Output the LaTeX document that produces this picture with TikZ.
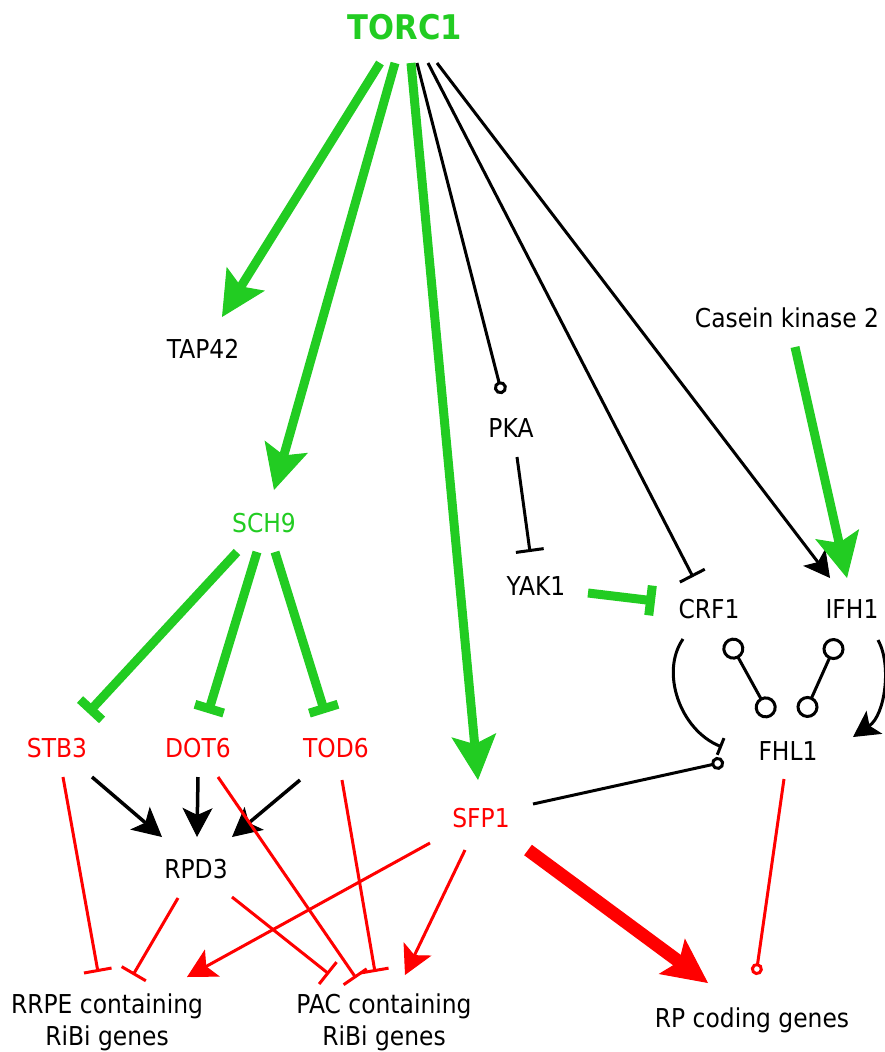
\documentclass[tikz,border=0pt]{standalone}
\usepackage{fontspec}
\setmainfont[FakeStretch=0.9]{DejaVu Sans}
\usetikzlibrary{arrows.meta}
\definecolor{gr}{RGB}{34,204,34}
\definecolor{rd}{RGB}{255,0,0}
\begin{document}
\begin{tikzpicture}[x=1pt,y=-1pt,
  lbl/.style={anchor=base,inner sep=0pt,font=\fontsize{26}{30}\selectfont},
  gact/.style={draw=gr,line width=9pt,-{Stealth[length=45pt,width=45pt,inset=9pt,line width=1pt]}},
  ginh/.style={draw=gr,line width=9pt,-{Bar[width=30pt]}},
  bact/.style={draw=black,line width=3.5pt,-{Stealth[length=29pt,width=30pt,inset=7pt,line width=1pt]}},
  bactb/.style={draw=black,line width=3pt,-{Stealth[length=26pt,width=28pt,inset=6pt,line width=1pt]}},
  binh/.style={draw=black,line width=3pt,-{Bar[width=28pt]}},
  bcirc/.style={draw=black,line width=3pt,-{Circle[open,length=13pt,width=13pt]}},
  bcircbig/.style={draw=black,line width=3pt,{Circle[open,length=22pt,width=22pt]}-{Circle[open,length=22pt,width=22pt]}},
  rinh/.style={draw=rd,line width=3pt,-{Bar[width=28pt]}},
  ract/.style={draw=rd,line width=3pt,-{Stealth[length=29pt,width=31pt,inset=7pt,line width=1pt]}},
  rbig/.style={draw=rd,line width=13pt,-{Stealth[length=45pt,width=44pt,inset=9pt,line width=1pt]}},
  rcirc/.style={draw=rd,line width=3pt,-{Circle[open,length=12pt,width=12pt]}}]
\path[use as bounding box] (0,0) rectangle (885,1052);
% nodes
\node[lbl,font=\bfseries\fontsize{34}{40}\selectfont,text=gr] (torc) at (405,39) {TORC1};
\node[lbl] (tap) at (203,358) {TAP42};
\node[lbl,text=gr] (sch) at (264,532) {SCH9};
\node[lbl] (pka) at (511,437) {PKA};
\node[lbl] (ck2) at (787,327) {Casein kinase 2};
\node[lbl] (yak) at (536,595) {YAK1};
\node[lbl] (crf) at (709,618) {CRF1};
\node[lbl] (ifh) at (852,618) {IFH1};
\node[lbl] (fhl) at (788,760) {FHL1};
\node[lbl,text=rd] (stb) at (57,757) {STB3};
\node[lbl,text=rd] (dot) at (198,757) {DOT6};
\node[lbl,text=rd] (tod) at (336,757) {TOD6};
\node[lbl,text=rd] (sfp) at (481,827) {SFP1};
\node[lbl] (rpd) at (196,878) {RPD3};
\node[lbl] (rrpe) at (107,1013) {RRPE containing};
\node[lbl] (rrpeb) at (107,1045) {RiBi genes};
\node[lbl] (pac) at (384,1013) {PAC containing};
\node[lbl] (pacb) at (384,1045) {RiBi genes};
\node[lbl] (rp) at (752,1027) {RP coding genes};
% TORC1 edges
\draw[gact] ([shift={(-25,24)}]torc.base) -- ([shift={(19,-41)}]tap.base);
\draw[gact] ([shift={(-10,24)}]torc.base) -- ([shift={(10,-42)}]sch.base);
\draw[gact] ([shift={(6,24)}]torc.base) -- ([shift={(-3,-47)}]sfp.base);
\draw[bcirc] ([shift={(12,24)}]torc.base) -- ([shift={(-9,-43)}]pka.base);
\draw[binh] ([shift={(23,24)}]torc.base) -- ([shift={(-16,-41)}]crf.base);
\draw[bactb] ([shift={(32,24)}]torc.base) -- ([shift={(-22,-40)}]ifh.base);
% right side
\draw[gact] ([shift={(8,20)}]ck2.base) -- ([shift={(-5,-40)}]ifh.base);
\draw[binh] ([shift={(6,20)}]pka.base) -- ([shift={(-6,-43)}]yak.base);
\draw[ginh] ([shift={(52,-2)}]yak.base) -- ([shift={(-54,-17)}]crf.base);
\draw[black,line width=3pt,-{Bar[width=18pt]}] ([shift={(-26,21)}]crf.base) .. controls +(-23,33) and +(-42,-17) .. ([shift={(-66,-13)}]fhl.base);
\draw[bcirc] ([shift={(52,-23)}]sfp.base) -- ([shift={(-64,2)}]fhl.base);
\draw[bcircbig] ([shift={(19,21)}]crf.base) -- ([shift={(-17,-43)}]fhl.base);
\draw[bcircbig] ([shift={(-14,21)}]ifh.base) -- ([shift={(15,-43)}]fhl.base);
\draw[bactb] ([shift={(26,22)}]ifh.base) .. controls +(14,25) and +(32,-22) .. ([shift={(65,-23)}]fhl.base);
\draw[rcirc] ([shift={(-4,19)}]fhl.base) -- ([shift={(4,-52)}]rp.base);
% SFP1 edges
\draw[rbig] ([shift={(47,23)}]sfp.base) -- ([shift={(-44,-44)}]rp.base);
\draw[ract] ([shift={(-51,16)}]sfp.base) -- ([shift={(80,-36)}]rrpe.base);
\draw[ract] ([shift={(-16,23)}]sfp.base) -- ([shift={(21,-38)}]pac.base);
% SCH9 edges
\draw[ginh] ([shift={(-27,20)}]sch.base) -- ([shift={(31,-44)}]stb.base);
\draw[ginh] ([shift={(-7,20)}]sch.base) -- ([shift={(10,-44)}]dot.base);
\draw[ginh] ([shift={(11,20)}]sch.base) -- ([shift={(-11,-44)}]tod.base);
% to RPD3
\draw[bact] ([shift={(35,20)}]stb.base) -- ([shift={(-34,-41)}]rpd.base);
\draw[bact] ([shift={(0,20)}]dot.base) -- ([shift={(1,-41)}]rpd.base);
\draw[bact] ([shift={(-36,23)}]tod.base) -- ([shift={(36,-41)}]rpd.base);
% red inhibitions
\draw[rinh] ([shift={(6,20)}]stb.base) -- ([shift={(-9,-41)}]rrpe.base);
\draw[rinh] ([shift={(-18,20)}]rpd.base) -- ([shift={(26,-38)}]rrpe.base);
\draw[rinh] ([shift={(20,20)}]dot.base) -- ([shift={(-28,-35)}]pac.base);
\draw[rinh] ([shift={(6,23)}]tod.base) -- ([shift={(-9,-41)}]pac.base);
\draw[rinh] ([shift={(36,19)}]rpd.base) -- ([shift={(-55,-39)}]pac.base);
\end{tikzpicture}
\end{document}
